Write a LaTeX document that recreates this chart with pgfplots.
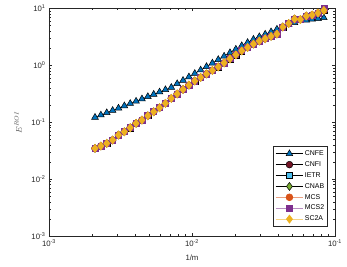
\documentclass[border=0pt]{standalone}
\usepackage{pgfplots}
\pgfplotsset{compat=1.18}
\usepackage{pgfplotstable}
\usepackage{fontspec}
\setmainfont{Liberation Sans}
\definecolor{mblue}{rgb}{0,0.447,0.741}
\definecolor{mred}{rgb}{0.45,0.08,0.15}
\definecolor{mcyan}{rgb}{0.30,0.745,0.933}
\definecolor{mgreen}{rgb}{0.466,0.674,0.188}
\definecolor{morange}{rgb}{0.85,0.325,0.098}
\definecolor{mpurple}{rgb}{0.494,0.184,0.556}
\definecolor{myellow}{rgb}{0.929,0.694,0.125}
\definecolor{axgray}{rgb}{0.15,0.15,0.15}

\pgfplotstableread{
x        cnfe    oth     mcstwo
0.002098 0.1215 0.03463 0.03463
0.002306 0.1333 0.03802 0.03802
0.002535 0.1463 0.04241 0.04241
0.002786 0.1605 0.04846 0.04846
0.003062 0.1762 0.05933 0.05933
0.003365 0.1934 0.06782 0.06782
0.003699 0.2122 0.07970 0.07970
0.004065 0.2329 0.09526 0.09526
0.004468 0.2557 0.1088 0.1088
0.004911 0.2807 0.1296 0.1296
0.005398 0.3081 0.1523 0.1523
0.005933 0.3381 0.1791 0.1791
0.006521 0.3711 0.2140 0.2140
0.007167 0.4073 0.2620 0.2620
0.007877 0.4730 0.3131 0.3131
0.008658 0.5406 0.3756 0.3756
0.009516 0.6228 0.4470 0.4470
0.010459 0.7147 0.5298 0.5298
0.011495 0.8233 0.6103 0.6103
0.012634 0.9450 0.7033 0.7033
0.013886 1.089 0.8100 0.8100
0.015262 1.254 0.9374 0.9374
0.016775 1.440 1.098 1.098
0.018437 1.658 1.296 1.296
0.020264 1.910 1.523 1.523
0.022272 2.201 1.791 1.791
0.024479 2.506 2.055 2.055
0.026905 2.853 2.358 2.358
0.029571 3.168 2.663 2.663
0.032502 3.505 2.922 2.922
0.035723 3.864 3.220 3.220
0.039263 4.293 3.534 3.534
0.043154 4.712 4.693 4.693
0.047430 5.129 5.405 5.405
0.052130 5.564 6.486 6.486
0.057296 6.030 6.356 6.356
0.062974 6.202 7.322 7.322
0.069215 6.408 7.624 7.624
0.076074 6.592 8.269 8.269
0.083613 6.808 9.200 9.900
}\datatab

\begin{document}
\begin{tikzpicture}
\useasboundingbox (0,0) rectangle (347bp,267bp);
\begin{axis}[
  at={(49bp,31bp)}, anchor=south west,
  scale only axis, width=286bp, height=227.7bp,
  xmode=log, ymode=log,
  xmin=0.001, xmax=0.1, ymin=0.001, ymax=10,
  xtick={0.001,0.01,0.1},
  xticklabels={10\textsuperscript{-3},10\textsuperscript{-2},10\textsuperscript{-1}},
  ytick={0.001,0.01,0.1,1,10},
  yticklabels={10\textsuperscript{-3},10\textsuperscript{-2},10\textsuperscript{-1},10\textsuperscript{0},10\textsuperscript{1}},
  tick label style={font=\fontsize{7.8}{8.5}\selectfont, color=axgray},
  tick align=inside,
  xtick pos=both, ytick pos=both,
  major tick length=2.8bp, minor tick length=1.6bp,
  every tick/.style={axgray, line width=0.4pt},
  axis line style={axgray, line width=0.5pt},
  xlabel={1/m},
  xlabel style={font=\fontsize{7.8}{8.5}\selectfont, color=axgray, at={(axis description cs:0.5,-0.097)}, anchor=center},
  ylabel={$E^{ROI}$},
  ylabel style={font=\fontsize{8}{9}\selectfont, color=black!70, at={(axis description cs:-0.108,0.5)}, anchor=center},
  legend style={at={(0.9745,0.395)}, anchor=north east,
    font=\fontsize{7}{8}\selectfont, draw=axgray, line width=0.5pt,
    row sep=0pt, inner sep=2pt,
    nodes={inner sep=1.2pt, text height=6bp, text depth=2.5bp},
    cells={anchor=west}},
  legend image code/.code={
    \draw[mark repeat=2,mark phase=2] plot coordinates {(0bp,0bp) (13.9bp,0bp) (27.8bp,0bp)};
  },
]
\addplot[black, line width=0.5pt, mark=triangle*, mark size=3.9pt, mark options={fill=mblue, draw=black, line width=0.5pt}] table[x=x,y=cnfe] {\datatab};
\addlegendentry{CNFE}
\addplot[black, line width=0.5pt, mark=*, mark size=3.4pt, mark options={fill=mred, draw=black, line width=0.5pt}] table[x=x,y=oth] {\datatab};
\addlegendentry{CNFI}
\addplot[black, line width=0.5pt, mark=square*, mark size=3pt, mark options={fill=mcyan, draw=black, line width=0.5pt}] table[x=x,y=oth] {\datatab};
\addlegendentry{IETR}
\addplot[black, line width=0.5pt, mark=diamond*, mark size=4pt, mark options={fill=mgreen, draw=black, line width=0.5pt}] table[x=x,y=oth] {\datatab};
\addlegendentry{CNAB}
\addplot[morange!55, line width=0.7pt, mark=*, mark size=3.4pt, mark options={fill=morange, draw=morange}] table[x=x,y=oth] {\datatab};
\addlegendentry{MCS}
\addplot[mpurple!55, line width=0.7pt, mark=square*, mark size=3pt, mark options={fill=mpurple, draw=mpurple}] table[x=x,y=mcstwo] {\datatab};
\addlegendentry{MCS2}
\addplot[myellow!55, line width=0.7pt, mark=diamond*, mark size=4pt, mark options={fill=myellow, draw=myellow}] table[x=x,y=oth] {\datatab};
\addlegendentry{SC2A}
\end{axis}
\end{tikzpicture}
\end{document}
